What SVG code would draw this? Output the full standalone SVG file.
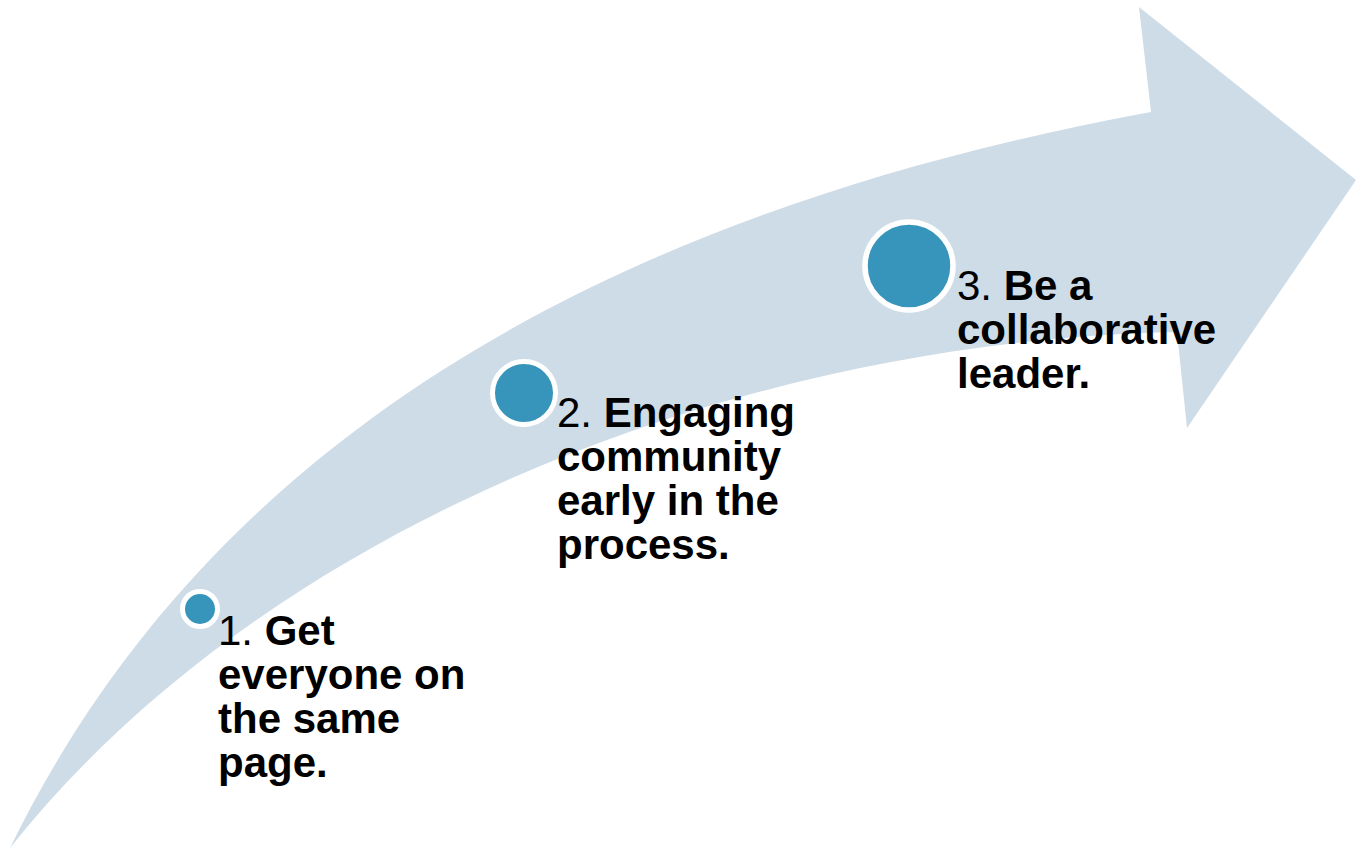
<svg xmlns="http://www.w3.org/2000/svg" width="1356" height="850" viewBox="0 0 1356 850">
<style>
.arrow{fill:#CEDCE7;}
.dot{fill:#3795BB;stroke:#FFFFFF;}
.lbl{font-family:"Liberation Sans",Arial,sans-serif;font-size:42px;fill:#000000;}
.b{font-weight:bold;}
</style>
<rect width="1356" height="850" fill="#FFFFFF"/>
<g id="connectors">
<path id="arrow" class="arrow" d="M10,848 C180,500 520,228 1151,112 L1139,7 L1356,180 L1187,428 L1177,332 C750,340 270,520 10,848 Z"/>
</g>
<g id="node1">
<circle class="dot" cx="200" cy="609" r="17.5" stroke-width="5"/>
<text class="lbl" x="218" y="645">1. <tspan class="b">Get</tspan></text>
<text class="lbl b" x="218" y="689">everyone on</text>
<text class="lbl b" x="218" y="733">the same</text>
<text class="lbl b" x="218" y="777">page.</text>
</g>
<g id="node2">
<circle class="dot" cx="524" cy="393" r="31.5" stroke-width="5"/>
<text class="lbl" x="557" y="427">2. <tspan class="b">Engaging</tspan></text>
<text class="lbl b" x="557" y="471">community</text>
<text class="lbl b" x="557" y="515">early in the</text>
<text class="lbl b" x="557" y="559">process.</text>
</g>
<g id="node3">
<circle class="dot" cx="909" cy="266" r="44" stroke-width="5.5"/>
<text class="lbl" x="957" y="300">3. <tspan class="b">Be a</tspan></text>
<text class="lbl b" x="957" y="344">collaborative</text>
<text class="lbl b" x="957" y="388">leader.</text>
</g>
</svg>
